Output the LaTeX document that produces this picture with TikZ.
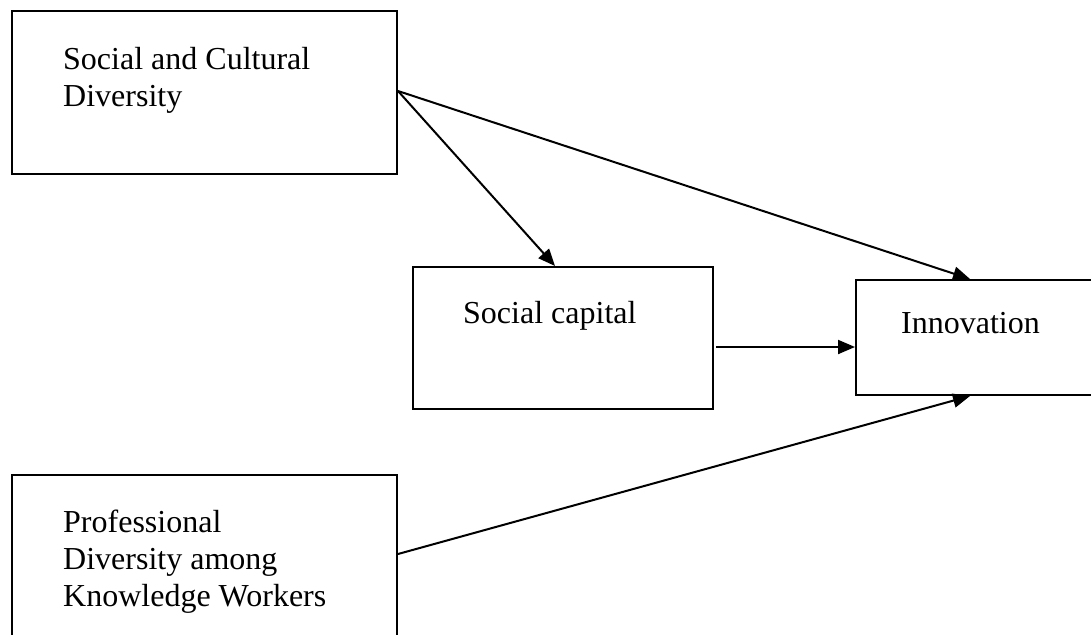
\documentclass[tikz,border=0pt]{standalone}
\usepackage{fontspec}
\setmainfont{Liberation Serif}
\usetikzlibrary{arrows.meta}
\tikzset{
  box/.style={draw, line width=2pt, anchor=north west, inner sep=0pt},
  label/.style={anchor=base west, inner sep=0pt, align=left,
    font=\fontsize{32}{37}\selectfont},
  link/.style={line width=2pt, -{Triangle[length=17pt,width=14pt]}}
}
\begin{document}
\begin{tikzpicture}[x=1pt,y=-1pt]
\useasboundingbox (0,0) rectangle (1091,634);
\clip (0,0) rectangle (1091,634);
\fill[white] (0,0) rectangle (1091,634);
% boxes
\node[box, minimum width=385pt, minimum height=163pt] (b1) at (11,10) {};
\node[box, minimum width=300pt, minimum height=142pt] (b2) at (412,266) {};
\node[box, minimum width=300pt, minimum height=115pt] (b3) at (855,279) {};
\node[box, minimum width=385pt, minimum height=200pt] (b4) at (11,474) {};
% labels (base anchor sits on the last line)
\node[label] (t1) at (63,106) {Social and Cultural\\Diversity};
\node[label] (t2) at (463,323) {Social capital};
\node[label] (t3) at (901,333) {Innovation};
\node[label] (t4) at (63,606) {Professional\\Diversity among\\Knowledge Workers};
% connectors
\coordinate (o1) at ([yshift=-81pt]b1.north east);
\draw[link] (o1) -- ([xshift=143pt]b2.north west);
\draw[link] (o1) -- ([xshift=115pt]b3.north west);
\draw[link] ([xshift=2pt,yshift=-81pt]b2.north east) -- ([yshift=-68pt]b3.north west);
\draw[link] ([yshift=-80pt]b4.north east) -- ([xshift=115pt]b3.south west);
\end{tikzpicture}
\end{document}
